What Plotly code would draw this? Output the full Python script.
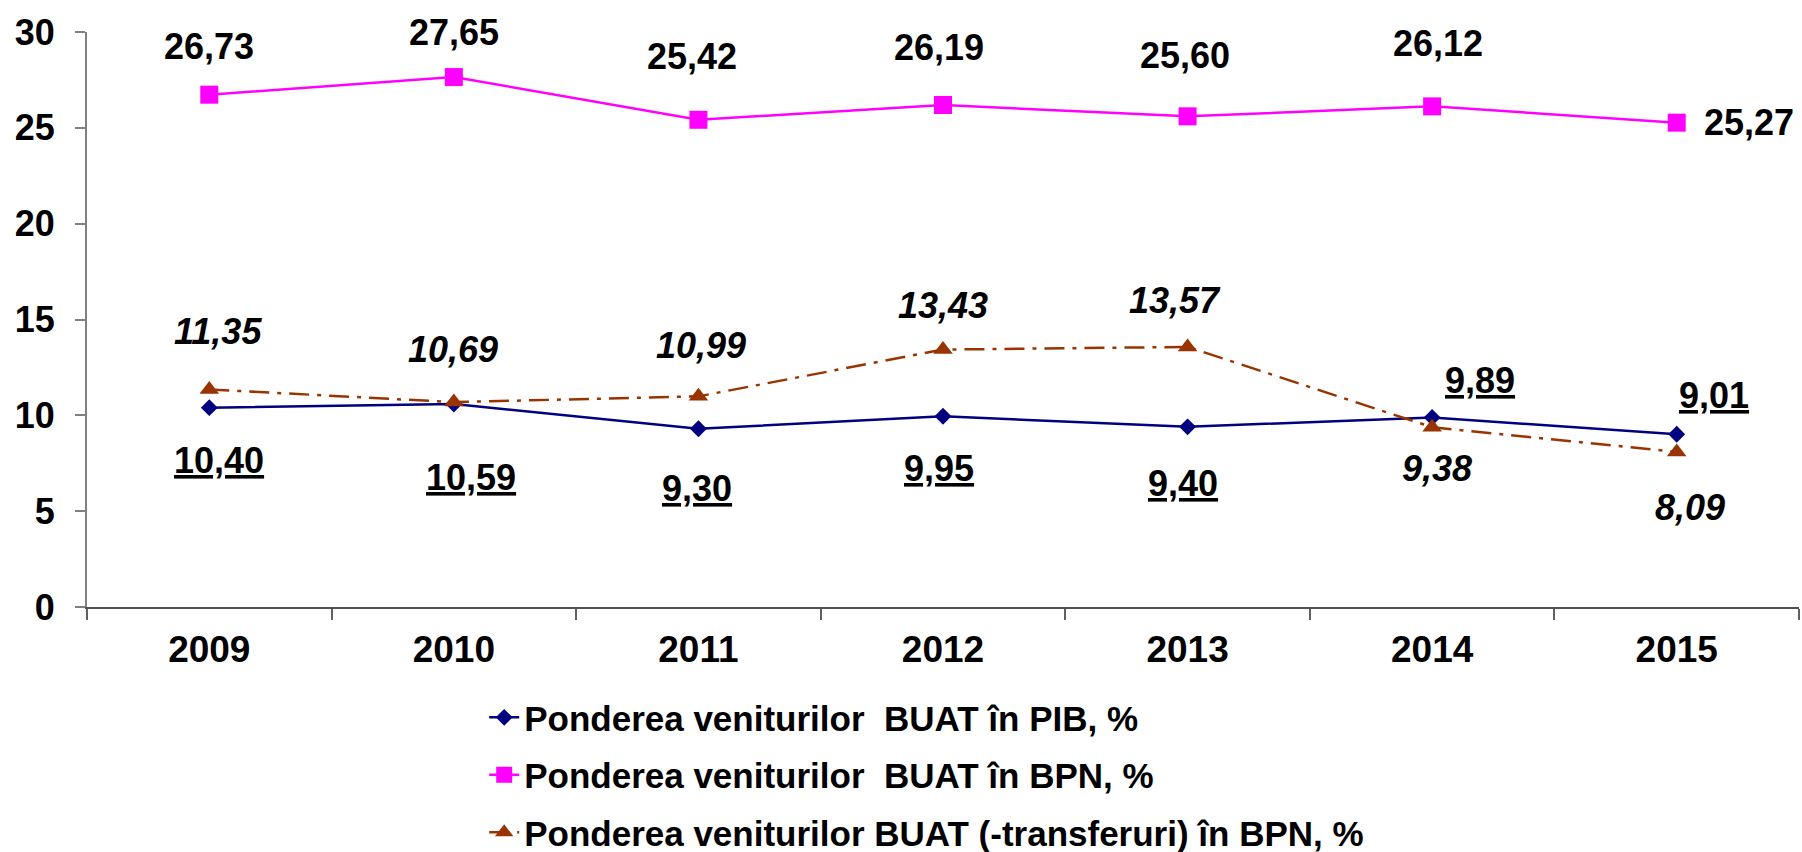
import plotly.graph_objects as go

years = ["2009", "2010", "2011", "2012", "2013", "2014", "2015"]
pib = [10.40, 10.59, 9.30, 9.95, 9.40, 9.89, 9.01]
bpn = [26.73, 27.65, 25.42, 26.19, 25.60, 26.12, 25.27]
bpn_fara_transf = [11.35, 10.69, 10.99, 13.43, 13.57, 9.38, 8.09]

name_pib = "Ponderea veniturilor  BUAT în PIB, %"
name_bpn = "Ponderea veniturilor  BUAT în BPN, %"
name_tr = "Ponderea veniturilor BUAT (-transferuri) în BPN, %"

# label offsets in pixels (layout only)
pib_dx = [10, 17, -1, -4, -5, 48, 37]
pib_dy = [-53, -73, -60, -52, -57, 37, 39]
bpn_dx = [0, 0, -6, -4, -3, 6, 25]
bpn_dy = [48, 45, 63, 58, 61, 63, 0]
bpn_anchor = ["center"] * 6 + ["left"]
tr_dx = [9, -1, 3, 0, -13, 5, 13]
tr_dy = [58, 53, 51, 44, 46, -41, -56]

FONT = "Liberation Sans, Arial, sans-serif"

def fmt(v):
    return f"{v:.2f}".replace(".", ",")

fig = go.Figure()
fig.add_trace(go.Scatter(
    x=years, y=pib, name=name_pib, mode="lines+markers", legendgroup="a",
    line=dict(color="#000080", width=2.5),
    marker=dict(symbol="diamond", size=13, color="#000080"),
    cliponaxis=False))
fig.add_trace(go.Scatter(
    x=years, y=bpn, name=name_bpn, mode="lines+markers", legendgroup="b",
    line=dict(color="#FF00FF", width=2.5),
    marker=dict(symbol="square", size=18, color="#FF00FF"),
    cliponaxis=False))
fig.add_trace(go.Scatter(
    x=years, y=bpn_fara_transf, name=name_tr, mode="lines+markers", legendgroup="c",
    line=dict(color="#993300", width=2.5, dash="20px,8px,4px,8px"),
    marker=dict(symbol="triangle-up", size=17, color="#993300"),
    cliponaxis=False))

ann = []
lab_font = dict(family=FONT, size=36, color="black", weight=700)
for i, yr in enumerate(years):
    ann.append(dict(x=i, y=pib[i], xref="x", yref="y", text="<u>" + fmt(pib[i]) + "</u>",
                    showarrow=False, xshift=pib_dx[i], yshift=pib_dy[i], font=lab_font))
    ann.append(dict(x=i, y=bpn[i], xref="x", yref="y", text=fmt(bpn[i]),
                    xanchor=bpn_anchor[i],
                    showarrow=False, xshift=bpn_dx[i], yshift=bpn_dy[i], font=lab_font))
    ann.append(dict(x=i, y=bpn_fara_transf[i], xref="x", yref="y",
                    text="<i>" + fmt(bpn_fara_transf[i]) + "</i>",
                    showarrow=False, xshift=tr_dx[i], yshift=tr_dy[i], font=lab_font))

fig.update_layout(
    width=1802, height=852,
    margin=dict(l=87, r=3, t=32, b=245, autoexpand=False),
    paper_bgcolor="white", plot_bgcolor="white",
    font=dict(family=FONT, color="black"),
    showlegend=True,
    legend=dict(x=0.232, xanchor="left", y=-0.141, yanchor="top",
                font=dict(family=FONT, size=35, color="black", weight=700),
                tracegroupgap=9, traceorder="grouped", bgcolor="rgba(0,0,0,0)"),
    annotations=ann,
    xaxis=dict(type="category", range=[-0.5, 6.5], showgrid=False, zeroline=False,
               showline=True, linecolor="#505050", linewidth=2,
               ticks="outside", ticklen=11, tickcolor="#606060", tickwidth=2,
               tickson="boundaries", ticklabelstandoff=9,
               tickfont=dict(family=FONT, size=37, color="black", weight=700)),
    yaxis=dict(range=[0, 30], dtick=5, showgrid=False, zeroline=False,
               showline=True, linecolor="#808080", linewidth=2,
               ticks="outside", ticklen=10, tickcolor="#808080", tickwidth=2,
               ticklabelstandoff=13,
               tickfont=dict(family=FONT, size=36, color="black", weight=700)),
)

fig.write_html("out.html",
               config={"displayModeBar": False},
               post_script="document.body.style.margin='0';document.body.style.overflow='hidden';")
